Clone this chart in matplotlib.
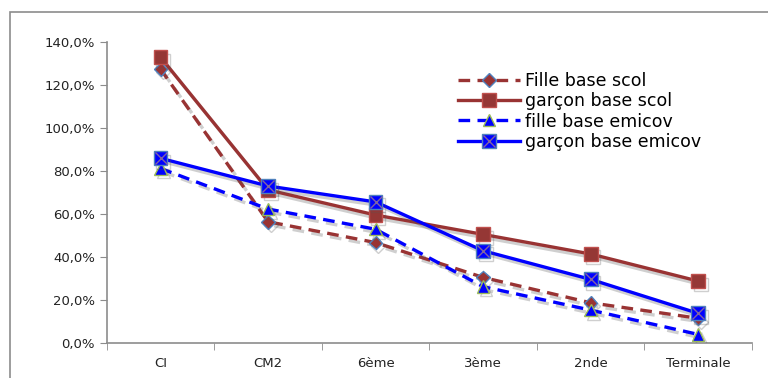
import numpy as np
import matplotlib
matplotlib.use("Agg")
import matplotlib.pyplot as plt
import matplotlib.patheffects as pe
from matplotlib.patches import Rectangle
from matplotlib.lines import Line2D
from matplotlib.legend_handler import HandlerTuple
from matplotlib.ticker import FuncFormatter, FixedLocator

plt.rcParams['font.family'] = ['DejaVu Sans']

# data (percent)
niveaux = ["CI", "CM2", "6ème", "3ème", "2nde", "Terminale"]
fille_scol = [127.4, 56.4, 46.7, 30.5, 18.7, 11.5]
garcon_scol = [132.9, 71.2, 59.5, 50.5, 41.4, 28.8]
fille_emicov = [81.2, 62.3, 52.9, 26.2, 15.3, 4.0]
garcon_emicov = [85.9, 73.0, 65.6, 42.9, 29.6, 13.8]
labels = ["Fille base scol", "garçon base scol", "fille base emicov", "garçon base emicov"]

brown = "#993333"
blue = "#0000ff"

fig = plt.figure(figsize=(7.68, 3.78), dpi=100)
ax = fig.add_axes([0.139, 0.0926, 0.84, 0.7965])

# outer chart frame
fig.patches.append(Rectangle((10 / 768, -0.1), 1.2, 1.1 - 12 / 378,
                             transform=fig.transFigure, fill=False,
                             edgecolor="#8c8c8c", linewidth=1.2))

shadow = [pe.SimpleLineShadow(offset=(2, -2.5), shadow_color="#555555", alpha=0.28), pe.Normal()]
x = np.arange(len(niveaux))

styles = [
    dict(color=brown, lw=2.4, ls=(0, (3.5, 2.2)), marker="D", ms=7,
         mfc=brown, mec="#4f81bd", mew=1),
    dict(color=brown, lw=2.4, ls="-", marker="s", ms=10,
         mfc="#953735", mec="#c0504d", mew=1),
    dict(color=blue, lw=2.4, ls=(0, (3.5, 2.2)), marker="^", ms=9,
         mfc=blue, mec="#9bbb59", mew=1),
    dict(color=blue, lw=2.4, ls="-", marker="s", ms=10,
         mfc=blue, mec="#4f81bd", mew=1),
]
series = [fille_scol, garcon_scol, fille_emicov, garcon_emicov]
for i, (ys, st) in enumerate(zip(series, styles)):
    ax.plot(x, ys, path_effects=shadow, zorder=3 + i, **st)
xmark = dict(ls="none", marker="x", ms=9, mec="#8064a2", mew=1)
ax.plot(x, garcon_emicov, zorder=8, **xmark)

ax.set_xlim(-0.5, 5.5)
ax.set_ylim(0, 140)
ax.set_yticks(np.arange(0, 141, 20))
ax.yaxis.set_major_formatter(FuncFormatter(lambda v, p: f"{v:.1f}".replace(".", ",") + "%"))
ax.set_xticks(x)
ax.set_xticklabels(niveaux)
ax.xaxis.set_minor_locator(FixedLocator(np.arange(-0.5, 5.6, 1)))
ax.tick_params(axis="x", which="major", length=0, pad=10, labelsize=9.5, colors="#222222")
ax.tick_params(axis="x", which="minor", length=5, color="#8c8c8c")
ax.tick_params(axis="y", length=5, color="#8c8c8c", labelsize=9.5, labelcolor="#222222")

for s in ["top", "right"]:
    ax.spines[s].set_visible(False)
for s in ["left", "bottom"]:
    ax.spines[s].set_color("#8c8c8c")
    ax.spines[s].set_linewidth(1.2)

# legend proxies without shadow
handles = [Line2D([], [], **st) for st in styles]
handles[3] = (handles[3], Line2D([], [], **xmark))
ax.legend(handles, labels,
          handler_map={tuple: HandlerTuple(ndivide=1, pad=0)},
          loc="upper left", bbox_to_anchor=(0.544, 0.90), frameon=False,
          fontsize=12.5, handlelength=3.6, handletextpad=0.25, labelspacing=0.13,
          borderaxespad=0, borderpad=0)

fig.savefig("out.png", dpi=100)
